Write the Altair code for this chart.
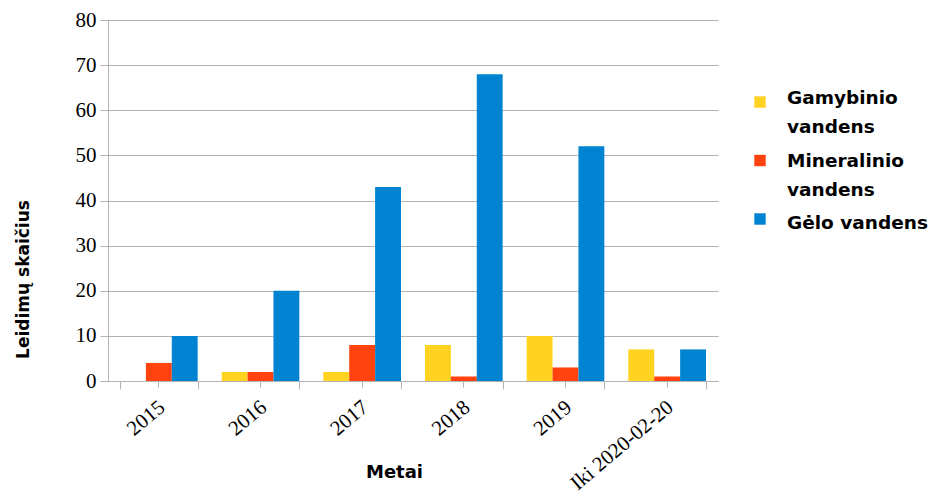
import altair as alt
import pandas as pd

years = ["2015", "2016", "2017", "2018", "2019", "Iki 2020-02-20"]
series = ["Gamybinio vandens", "Mineralinio vandens", "Gėlo vandens"]
gamybinio = [0, 2, 2, 8, 10, 7]
mineralinio = [4, 2, 8, 1, 3, 1]
gelo = [10, 20, 43, 68, 52, 7]
colors = ["#FFD320", "#FF420E", "#0084D1"]
legend_line1 = ["Gamybinio", "Mineralinio", "Gėlo vandens"]
legend_line2 = ["vandens", "vandens", ""]
y_ticks = [0, 5, 10, 15, 20, 25, 30, 35, 40, 45, 50, 55, 60, 65, 70, 75, 80]

rows = []
for name, vals in zip(series, [gamybinio, mineralinio, gelo]):
    for yr, v in zip(years, vals):
        rows.append({"Metai": yr, "Serija": name, "Kiekis": v})
df = pd.DataFrame(rows)

serif = "Liberation Serif"
sans = "DejaVu Sans"
gray = "#b3b3b3"

xscale = alt.Scale(paddingInner=0.236, paddingOuter=0.118)
color = alt.Color("Serija:N", sort=series,
                  scale=alt.Scale(domain=series, range=colors), legend=None)
xoff = alt.XOffset("Serija:N", sort=series, scale=alt.Scale(paddingInner=0, paddingOuter=0))

yenc = alt.Y(
    "Kiekis:Q",
    scale=alt.Scale(domain=[0, 80], nice=False),
    axis=alt.Axis(
        title="Leidimų skaičius",
        values=y_ticks,
        labelExpr="datum.value % 10 === 0 ? datum.label : ''",
        gridOpacity={"condition": {"test": "datum.value % 10 !== 0", "value": 0}, "value": 1},
        gridColor=gray,
        domainColor=gray,
        tickColor=gray,
        tickSize=8,
        labelFont=serif,
        labelFontSize=21,
        labelColor="#000000",
        labelPadding=4,
        titleFont=sans,
        titleFontSize=17,
        titleFontWeight="bold",
        titleColor="#000000",
        titleAngle=270,
        titleAlign="center",
        titleBaseline="bottom",
        titleX=-76,
        titleY=259,
    ),
)

bars = alt.Chart(df).mark_bar().encode(
    x=alt.X(
        "Metai:N", sort=years, scale=xscale,
        axis=alt.Axis(
            orient="bottom",
            title="Metai",
            labelAngle=-40,
            labelAlign="right",
            labelBaseline="top",
            labelFont=serif,
            labelFontSize=21,
            labelColor="#000000",
            labelPadding=7,
            labelOffset=-4,
            tickBand="extent",
            tickSize=8,
            tickColor=gray,
            domainColor=gray,
            grid=False,
            titleFont=sans,
            titleFontSize=18,
            titleFontWeight="bold",
            titleColor="#000000",
            titleAlign="center",
            titleBaseline="alphabetic",
            titleX=286,
            titleY=96,
        ),
    ),
    xOffset=xoff,
    y=yenc,
    color=color,
)

center_ticks = alt.Chart(df).mark_bar(opacity=0).encode(
    x=alt.X(
        "Metai:N", sort=years, scale=xscale,
        axis=alt.Axis(orient="bottom", title=None, labels=False, domain=False,
                      grid=False, tickSize=6, tickColor=gray),
    ),
    xOffset=xoff,
    y=alt.Y("Kiekis:Q"),
)

main = alt.layer(bars, center_ticks).resolve_axis(x="independent").properties(
    width=610, height=361
)

leg_df = pd.DataFrame({"Serija": series, "l1": legend_line1, "l2": legend_line2})
ly_sym = alt.Y("Serija:N", sort=series, axis=None,
               scale=alt.Scale(type="point", padding=0, range=[82, 199]))
ly_txt = alt.Y("Serija:N", sort=series, axis=None,
               scale=alt.Scale(type="point", padding=0, range=[84, 209]))

sym = alt.Chart(leg_df).mark_square(size=130, opacity=1).encode(
    x=alt.value(42), y=ly_sym, color=color
)
t1 = alt.Chart(leg_df).mark_text(
    align="left", baseline="alphabetic", dy=0, font=sans, fontSize=18.5,
    fontWeight="bold", color="#000000"
).encode(x=alt.value(69), y=ly_txt, text="l1:N")
t2 = alt.Chart(leg_df).mark_text(
    align="left", baseline="alphabetic", dy=29, font=sans, fontSize=18.5,
    fontWeight="bold", color="#000000"
).encode(x=alt.value(69), y=ly_txt, text="l2:N")

txt = alt.layer(t1, t2)
legend = alt.layer(sym, txt).resolve_scale(y="independent").properties(width=200, height=361)

chart = alt.hconcat(main, legend, spacing=0).properties(
    padding={"left": 14, "top": 9, "right": 5, "bottom": 5},
    background="white",
).configure_view(strokeWidth=0, stroke="transparent")

chart.save("out.html", embed_options={"renderer": "svg", "actions": False})
